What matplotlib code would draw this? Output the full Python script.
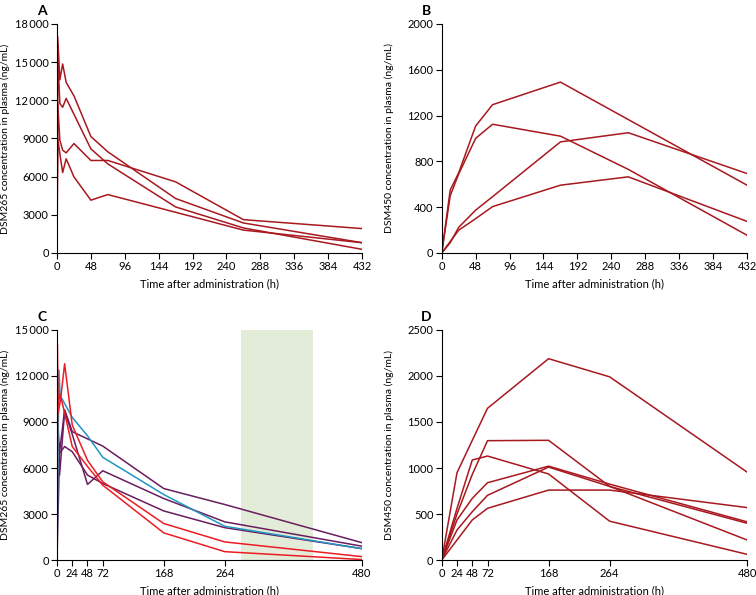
import matplotlib.pyplot as plt
import numpy as np

plt.rcParams['font.family'] = ['Lato', 'DejaVu Sans']
plt.rcParams['font.size'] = 8

# ---- data ----
# panel A: DSM265, 4 subjects
time_a = [0, 1, 4, 8, 13, 24, 48, 72, 168, 264, 432]
conc_a = [
    [0, 17000, 13600, 14850, 13400, 12350, 9150, 7950, 4280, 2360, 810],
    [0, 15500, 11750, 11450, 12150, 10900, 8180, 7000, 3620, 1970, 290],
    [0, 11800, 8870, 8080, 7870, 8600, 7270, 7270, 5590, 2620, 1920],
    [0, 9000, 7820, 6320, 7400, 5980, 4150, 4590, 3200, 1800, 810],
]

# panel B: DSM450, 4 subjects
time_b = [0, 12, 24, 48, 72, 168, 264, 432]
conc_b = [
    [0, 550, 700, 1109, 1295, 1492, 1165, 592],
    [0, 500, 690, 1001, 1124, 1020, 730, 155],
    [0, 90, 224, 374, 492, 970, 1050, 694],
    [0, 100, 199, 300, 405, 592, 665, 276],
]

# panel C: DSM265, 6 subjects (2 red, 1 blue, 3 purple)
time_c_red1 = [0, 0.5, 2, 6, 12, 24, 48, 72, 168, 264, 480]
conc_c_red1 = [0, 14100, 9600, 10600, 12800, 8800, 6500, 5100, 2380, 1180, 220]
time_c_red2 = [0, 1, 4, 8, 24, 48, 72, 168, 264, 480]
conc_c_red2 = [0, 9700, 10800, 10300, 7400, 6100, 4880, 1770, 545, 30]
time_c_blue = [0, 3, 5, 8, 24, 48, 72, 168, 264, 480]
conc_c_blue = [0, 12400, 10700, 10500, 9300, 8100, 6700, 4270, 2200, 740]
time_c_purple = [0, 1, 4, 12, 24, 48, 72, 168, 264, 480]
conc_c_purple = [
    [0, 9200, 7000, 9800, 8370, 7900, 7430, 4660, 3620, 1130],
    [0, 5650, 5540, 9700, 8200, 4930, 5820, 4010, 2490, 900],
    [0, 1950, 6960, 7400, 7060, 5540, 4990, 3200, 2110, 740],
]
shade_c = (290, 403)

# panel D: DSM450, 6 subjects
time_d = [0, 24, 48, 72, 168, 264, 480]
conc_d = [
    [0, 949, 1300, 1649, 2188, 1991, 956],
    [0, 500, 930, 1297, 1301, 800, 218],
    [0, 560, 1087, 1130, 935, 422, 62],
    [0, 435, 670, 840, 1020, 825, 415],
    [0, 326, 525, 703, 1010, 800, 400],
    [0, 217, 435, 562, 760, 760, 570],
]

DARK_RED = '#a8181f'
RED = '#ec1c24'
BLUE = '#2196c4'
PURPLE = '#6a1d5e'
SHADE = '#e3ecd9'
LW = 1.1


def fmt_tick(v):
    v = int(v)
    if v >= 10000:
        return f'{v // 1000}\u2009{v % 1000:03d}'
    return str(v)


def style_axis(ax, xticks, xmax, yticks, ylabel, letter):
    ax.set_xlim(0, xmax)
    ax.set_ylim(0, yticks[-1])
    ax.set_xticks(xticks)
    ax.set_yticks(yticks)
    ax.set_yticklabels([fmt_tick(v) for v in yticks])
    ax.spines['top'].set_visible(False)
    ax.spines['right'].set_visible(False)
    ax.tick_params(direction='out', length=4, width=0.8, labelsize=8, pad=2)
    ax.set_xlabel('Time after administration (h)', fontsize=8, labelpad=4)
    ax.set_ylabel(ylabel, fontsize=7.5)
    ax.yaxis.set_label_coords(-0.155, 0.5)
    ax.text(-0.035, 1.03, letter, transform=ax.transAxes, fontsize=10,
            fontweight='bold', ha='right', va='bottom')


fig = plt.figure(figsize=(7.56, 5.95), dpi=100)
ax_a = fig.add_axes([0.0754, 0.5748, 0.4034, 0.385])
ax_b = fig.add_axes([0.5843, 0.5748, 0.4038, 0.385])
ax_c = fig.add_axes([0.0754, 0.0588, 0.4034, 0.3866])
ax_d = fig.add_axes([0.5843, 0.0588, 0.4038, 0.3866])

for conc in conc_a:
    ax_a.plot(time_a, conc, color=DARK_RED, lw=LW)
style_axis(ax_a, np.arange(0, 433, 48), 432, np.arange(0, 18001, 3000),
           'DSM265 concentration in plasma (ng/mL)', 'A')

for conc in conc_b:
    ax_b.plot(time_b, conc, color=DARK_RED, lw=LW)
style_axis(ax_b, np.arange(0, 433, 48), 432, np.arange(0, 2001, 400),
           'DSM450 concentration in plasma (ng/mL)', 'B')

ax_c.axvspan(shade_c[0], shade_c[1], color=SHADE, lw=0, zorder=0)
for conc in conc_c_purple:
    ax_c.plot(time_c_purple, conc, color=PURPLE, lw=LW)
ax_c.plot(time_c_blue, conc_c_blue, color=BLUE, lw=LW)
ax_c.plot(time_c_red1, conc_c_red1, color=RED, lw=LW)
ax_c.plot(time_c_red2, conc_c_red2, color=RED, lw=LW)
style_axis(ax_c, [0, 24, 48, 72, 168, 264, 480], 480, np.arange(0, 15001, 3000),
           'DSM265 concentration in plasma (ng/mL)', 'C')

for conc in conc_d:
    ax_d.plot(time_d, conc, color=DARK_RED, lw=LW)
style_axis(ax_d, [0, 24, 48, 72, 168, 264, 480], 480, np.arange(0, 2501, 500),
           'DSM450 concentration in plasma (ng/mL)', 'D')

fig.savefig('out.png', dpi=100)
